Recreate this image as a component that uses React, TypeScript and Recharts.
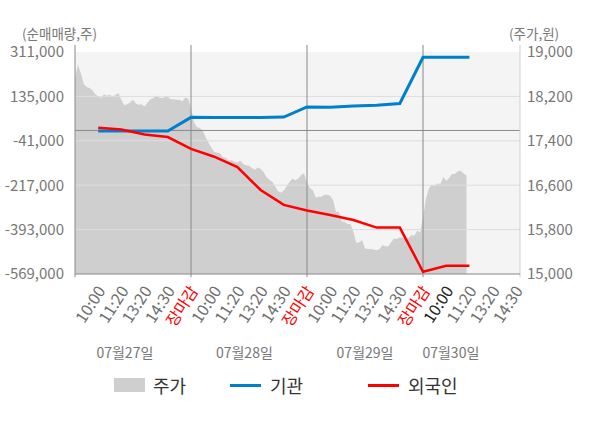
import {
  ComposedChart,
  Area,
  Line,
  XAxis,
  YAxis,
  CartesianGrid,
  ReferenceLine,
} from "recharts";

// 날짜, 시간 눈금
const dates = ["07월27일", "07월28일", "07월29일", "07월30일"];
const sessionLabels = ["10:00", "11:20", "13:20", "14:30", "장마감"];
const volumeTicks = [-569000, -393000, -217000, -41000, 135000, 311000];
const priceTicks = [15000, 15800, 16600, 17400, 18200, 19000];

// 주가 (하루 40구간)
const price0727 = [
  18540, 18770, 18620, 18430, 18370, 18350, 18310, 18240, 18200, 18170,
  18240, 18210, 18230, 18190, 18230, 18260, 18140, 18040, 18060, 18090,
  18140, 18070, 18050, 18060, 18020, 18090, 18150, 18170, 18210, 18180,
  18170, 18190, 18200, 18150, 18150, 18140, 18140, 18110, 18180, 18160,
];
const price0728 = [
  17990, 17740, 17650, 17630, 17590, 17470, 17370, 17280, 17200, 17190,
  17170, 17110, 17090, 17040, 17050, 17020, 17010, 17040, 16980, 16960,
  16950, 16910, 16880, 16920, 16890, 16840, 16750, 16700, 16660, 16580,
  16490, 16470, 16500, 16580, 16660, 16720, 16690, 16720, 16790, 16810,
];
const price0729 = [
  16640, 16550, 16510, 16380, 16390, 16390, 16430, 16430, 16410, 16330,
  16120, 16120, 15940, 15940, 15900, 15900, 15760, 15560, 15570, 15610,
  15460, 15450, 15450, 15440, 15430, 15450, 15520, 15500, 15500, 15570,
  15640, 15630, 15660, 15650, 15630, 15650, 15700, 15690, 15780, 15750,
];
const price0730 = [
  16010, 16350, 16540, 16610, 16590, 16630, 16620, 16750, 16680, 16730,
  16800, 16800, 16850, 16860, 16810, 16770,
];

// 누적 순매매량 (10:00 눈금부터 눈금마다)
const institution = [
  -2000, -2000, -2000, -2000, 52000, 51000, 51000, 51000, 53000, 93000,
  92000, 97000, 100000, 107000, 290000, 290000, 290000,
];
const foreign = [
  11000, 4000, -16000, -26000, -73000, -104000, -145000, -236000, -295000,
  -317000, -335000, -355000, -385000, -385000, -560000, -536000, -536000,
];

const SLOTS_PER_DAY = 5;
const STEPS_PER_DAY = 40;
const X_MAX = 19.18;
const CURRENT_SLOT = 16;

// plot box (px) - must match chart margins / axis widths below
const PLOT_LEFT = 75;
const PLOT_RIGHT = 520;

const priceData = [price0727, price0728, price0729, price0730].flatMap((day, d) =>
  day.map((v, k) => ({ x: d * SLOTS_PER_DAY + (k * SLOTS_PER_DAY) / STEPS_PER_DAY, v }))
);
const institutionData = institution.map((v, i) => ({ x: i + 1, v }));
const foreignData = foreign.map((v, i) => ({ x: i + 1, v }));

const slotLabels = dates.flatMap(() => sessionLabels).slice(0, 19);
const slotTicks = slotLabels.map((_, i) => i + 1);
const dateLabelSlots = [2.15, 7.3, 12.5, 16.2];
const dayBounds = [0, 5, 10, 15];

const fmt = (v: number) => v.toLocaleString("en-US");
const FONT = '"Noto Sans CJK KR", "Noto Sans", sans-serif';
const slotToPx = (s: number) => PLOT_LEFT + (s / X_MAX) * (PLOT_RIGHT - PLOT_LEFT);

function TimeTick({ x, y, payload }: any) {
  const label = slotLabels[payload.value - 1];
  const color =
    label === "장마감" ? "#ff0000" : payload.value === CURRENT_SLOT ? "#222" : "#6f6f6f";
  const ax = x + 2;
  const ay = y + 13;
  return (
    <text
      x={ax}
      y={ay}
      transform={`rotate(-57 ${ax} ${ay})`}
      textAnchor="end"
      dominantBaseline="central"
      fill={color}
      fontSize={16}
      fontFamily={FONT}
    >
      {label}
    </text>
  );
}

const legendItems = [
  { name: "주가", color: "#cfcfcf", kind: "box", left: 114 },
  { name: "기관", color: "#0080cc", kind: "line", left: 230 },
  { name: "외국인", color: "#ff0000", kind: "line", left: 368 },
];

export default function App() {
  return (
    <div style={{ position: "absolute", left: 0, top: 0, width: 600, height: 428, background: "#fff", fontFamily: FONT }}>
      <div style={{ position: "absolute", left: 22, top: 25, fontSize: 13.5, color: "#777", lineHeight: "17px" }}>(순매매량,주)</div>
      <div style={{ position: "absolute", left: 509, top: 25, fontSize: 13.5, color: "#777", lineHeight: "17px" }}>(주가,원)</div>

      <ComposedChart width={600} height={428} margin={{ top: 52, right: 0, bottom: 0, left: 0 }}>
        <CartesianGrid yAxisId="left" horizontal={false} vertical={false} fill="#f4f4f4" stroke="none" />
        <XAxis
          dataKey="x"
          type="number"
          domain={[0, X_MAX]}
          ticks={slotTicks}
          interval={0}
          tick={<TimeTick />}
          tickLine={false}
          tickSize={0}
          tickMargin={0}
          axisLine={{ stroke: "#888" }}
          height={154}
          allowDuplicatedCategory={false}
        />
        <YAxis
          yAxisId="left"
          domain={[-569000, 311000]}
          ticks={volumeTicks}
          interval={0}
          tickFormatter={fmt}
          tick={{ fill: "#777", fontSize: 15, fontFamily: FONT }}
          tickLine={false}
          tickMargin={5}
          axisLine={false}
          width={PLOT_LEFT}
        />
        <YAxis
          yAxisId="right"
          orientation="right"
          domain={[15000, 19000]}
          ticks={priceTicks}
          interval={0}
          tickFormatter={fmt}
          tick={{ fill: "#777", fontSize: 15, fontFamily: FONT, textAnchor: "start" }}
          tickLine={false}
          tickMargin={1}
          axisLine={false}
          width={600 - PLOT_RIGHT}
        />

        <Area
          yAxisId="right"
          data={priceData}
          dataKey="v"
          type="linear"
          stroke="none"
          fill="#cfcfcf"
          fillOpacity={1}
          isAnimationActive={false}
        />

        {volumeTicks.slice(1, -1).map((t) => (
          <ReferenceLine key={t} yAxisId="left" y={t} stroke="#dddddd" strokeWidth={1} />
        ))}
        <ReferenceLine yAxisId="left" y={0} stroke="#8a8a8a" strokeWidth={1} />
        {dayBounds.map((b) => (
          <ReferenceLine
            key={b}
            yAxisId="left"
            segment={[{ x: b, y: 339000 }, { x: b, y: -582000 }]}
            ifOverflow="visible"
            stroke="#8a8a8a"
            strokeWidth={1}
          />
        ))}
        <ReferenceLine
          yAxisId="left"
          segment={[{ x: X_MAX, y: 339000 }, { x: X_MAX, y: -582000 }]}
          ifOverflow="visible"
          stroke="#d0d0d0"
          strokeWidth={1}
        />

        <Line
          yAxisId="left"
          data={institutionData}
          dataKey="v"
          name="기관"
          type="linear"
          stroke="#0080cc"
          strokeWidth={3}
          dot={false}
          isAnimationActive={false}
        />
        <Line
          yAxisId="left"
          data={foreignData}
          dataKey="v"
          name="외국인"
          type="linear"
          stroke="#ff0000"
          strokeWidth={2.5}
          dot={false}
          isAnimationActive={false}
        />
      </ComposedChart>

      {dates.map((d, i) => (
        <div
          key={d}
          style={{
            position: "absolute",
            left: slotToPx(dateLabelSlots[i]) - 40,
            top: 342,
            width: 80,
            textAlign: "center",
            fontSize: 14,
            color: "#777",
            lineHeight: "20px",
          }}
        >
          {d}
        </div>
      ))}

      {legendItems.map((it) => (
        <div key={it.name} style={{ position: "absolute", left: it.left, top: 374, height: 22, display: "flex", alignItems: "center" }}>
          <span
            style={{
              display: "inline-block",
              width: 31,
              height: it.kind === "box" ? 14 : 3,
              background: it.color,
              marginRight: it.kind === "box" ? 8 : 9,
            }}
          />
          <span style={{ fontSize: 18, color: "#333", lineHeight: "22px" }}>{it.name}</span>
        </div>
      ))}
    </div>
  );
}
